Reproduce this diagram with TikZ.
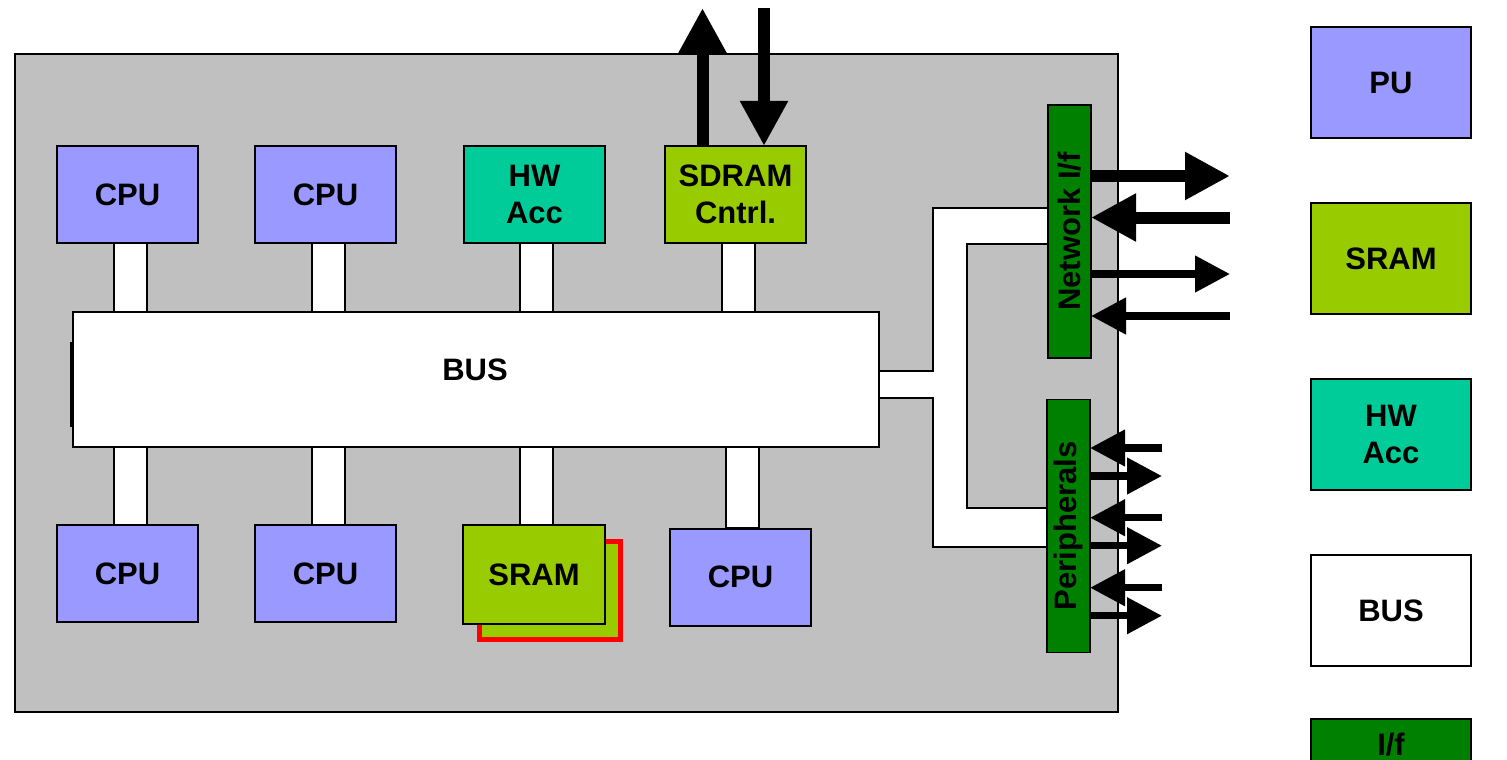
\documentclass[tikz,border=0pt]{standalone}
\usepackage{fontspec}
\setmainfont{Liberation Sans}
\usetikzlibrary{arrows.meta}
\definecolor{pu}{HTML}{9999FF}
\definecolor{sramc}{HTML}{99CC00}
\definecolor{hwacc}{HTML}{00CC99}
\definecolor{ifg}{HTML}{008000}
\definecolor{chip}{HTML}{C0C0C0}
\tikzset{
  blk/.style={draw, line width=1pt, inner sep=0pt, outer sep=0pt, minimum width=70.5pt, minimum height=48.5pt, align=center, font=\fontsize{15.5}{18.5}\selectfont\bfseries},
  cpu/.style={blk, fill=pu},
  mem/.style={blk, fill=sramc},
  hw/.style={blk, fill=hwacc},
  leg/.style={blk, minimum width=80pt, minimum height=55.5pt},
  iface/.style={draw, line width=0.75pt, fill=ifg, minimum width=21.5pt, minimum height=126.5pt, inner sep=0pt, outer sep=0pt},
  lbl/.style={font=\fontsize{15.5}{18.5}\selectfont\bfseries, inner sep=0pt},
  stubbox/.style={draw, fill=white, line width=1pt},
  fatarr/.style={line width=6pt, -{Triangle[length=22.5pt,width=22.5pt]}},
  thinarr/.style={line width=3.75pt, -{Triangle[length=17.5pt,width=17.5pt]}}
}
\begin{document}
\begin{tikzpicture}[x=0.5pt,y=-0.5pt]
\clip (0,0) rectangle (1507,759);
\fill[white] (0,0) rectangle (1507,759);
% chip
\draw[fill=chip, line width=1pt] (15,54) rectangle (1118,712);
% stubs
\draw[stubbox] (114,243) rectangle (147,312);
\draw[stubbox] (312,243) rectangle (345,312);
\draw[stubbox] (520,243) rectangle (553,312);
\draw[stubbox] (722,243) rectangle (755,312);
\draw[stubbox] (114,447) rectangle (147,525);
\draw[stubbox] (312,447) rectangle (345,525);
\draw[stubbox] (520,447) rectangle (553,525);
\draw[stubbox] (726,447) rectangle (759,528);
% L band
\fill[white] (878,371) -- (933,371) -- (933,208) -- (1048,208) -- (1048,244) -- (967,244) -- (967,508) -- (1048,508) -- (1048,547) -- (933,547) -- (933,398) -- (878,398) -- cycle;
\draw[line width=1pt] (878,371) -- (933,371) -- (933,208) -- (1048,208);
\draw[line width=1pt] (878,398) -- (933,398) -- (933,547) -- (1048,547);
\draw[line width=1pt] (1048,244) -- (967,244) -- (967,508) -- (1048,508);
% bus
\draw[line width=1.5pt] (71.5,342) -- (71.5,427);
\node[draw, fill=white, line width=1pt, minimum width=403pt, minimum height=67.5pt, inner sep=0pt] (bus) at (475.6,379.5) {};
\node[lbl] (buslbl) at (475,370) {BUS};
% top row
\node[cpu] (cpu1) at (127.5,194.5) {CPU};
\node[cpu] (cpu2) at (325.5,194.5) {CPU};
\node[hw] (hwacc) at (534.5,194.5) {HW\\Acc};
\node[mem] (sdram) at (735.5,194.5) {SDRAM\\Cntrl.};
% bottom row
\node[cpu] (cpu3) at (127.5,573.5) {CPU};
\node[cpu] (cpu4) at (325.5,573.5) {CPU};
\node[mem, draw=red, line width=2.5pt, minimum width=70.5pt, minimum height=49pt] (sramback) at (550,590.5) {};
\node[mem, minimum width=71pt, minimum height=49.5pt] (sram) at (534,574.5) {SRAM};
\node[cpu] (cpu5) at (740.5,577) {CPU};
% interfaces
\node[iface] (net) at (1069.5,231.5) {};
\node[lbl, rotate=90] (netlbl) at (1069.5,231.5) {Network I/f};
\node[iface] (per) at (1068.5,526) {};
\node[lbl, rotate=90] (perlbl) at (1068.5,526) {Peripherals};
% SDRAM arrows
\coordinate (sdUp) at (702.5,8);
\coordinate (sdDnTop) at (764,8);
\draw[fatarr] (sdUp |- sdram.north) -- (sdUp);
\draw[fatarr] (sdDnTop) -- (sdDnTop |- sdram.north);
% network arrows
\coordinate (n1) at (1230,176);
\coordinate (n2) at (1230,217.5);
\coordinate (n3) at (1230,274);
\coordinate (n4) at (1230,316);
\draw[fatarr] (n1 -| net.east) -- (n1);
\draw[fatarr] (n2) -- (n2 -| net.east);
\draw[thinarr] (n3 -| net.east) -- (n3);
\draw[thinarr] (n4) -- (n4 -| net.east);
% peripheral arrows
\coordinate (p1) at (1162,448);
\coordinate (p2) at (1162,476);
\coordinate (p3) at (1162,517.7);
\coordinate (p4) at (1162,545.7);
\coordinate (p5) at (1162,587.7);
\coordinate (p6) at (1162,615.7);
\draw[thinarr] (p1) -- (p1 -| per.east);
\draw[thinarr] (p2 -| per.east) -- (p2);
\draw[thinarr] (p3) -- (p3 -| per.east);
\draw[thinarr] (p4 -| per.east) -- (p4);
\draw[thinarr] (p5) -- (p5 -| per.east);
\draw[thinarr] (p6 -| per.east) -- (p6);
% legend
\node[leg, fill=pu] (lpu) at (1391,82.5) {PU};
\node[leg, fill=sramc] (lsram) at (1391,258.5) {SRAM};
\node[leg, fill=hwacc] (lhw) at (1391,434.5) {HW\\Acc};
\node[leg, fill=white] (lbus) at (1391,610.5) {BUS};
\node[leg, fill=ifg] (lif) at (1391,774.5) {};
\node[lbl] (liflbl) at (1391,745) {I/f};
\end{tikzpicture}
\end{document}
